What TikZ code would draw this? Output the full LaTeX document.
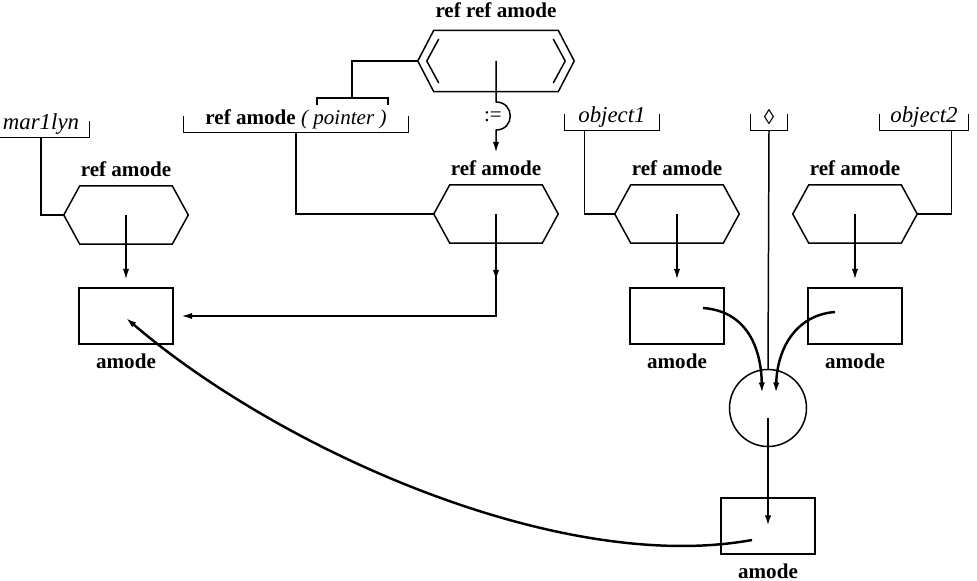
\documentclass[tikz,border=0pt]{standalone}
\usepackage{fontspec}
\setmainfont{Liberation Serif}
\usetikzlibrary{positioning,calc,arrows.meta}

\begin{document}
\begin{tikzpicture}[x=0.02cm, y=-0.02cm, line width=0.85pt, >={Latex[length=6pt,width=3.6pt]},
	every node/.style={inner sep=1pt, font=\fontsize{12}{14}\selectfont},
	lbl/.style={font=\fontsize{12}{14}\selectfont\bfseries},
	tag/.style={minimum height=0.52cm, font=\fontsize{13}{15}\selectfont\itshape},
	hexa/.style={minimum width=2.46cm, minimum height=1.14cm, inner sep=0pt},
	box/.style={draw, minimum width=1.88cm, minimum height=1.12cm, inner sep=0pt},
	flow/.style={->, line width=1.4pt}]
	\useasboundingbox (0,0) rectangle (977,581);
	\node[hexa, minimum width=3.1cm, minimum height=1.2cm] (rr) at (496,61) {};
	\node[lbl, above=6pt of rr] (rr-lab) {ref ref amode};
	\node[tag, minimum width=1.92cm] (mar) at (41,124) {mar1lyn};
	\node[minimum height=0.52cm, minimum width=4.48cm] (ptr) at (296,119) {\textbf{ref amode} \textit{( pointer )}};
	\node[tag, minimum width=1.88cm] (obj1) at (612,117) {object1};
	\node[tag, minimum width=0.72cm, font=\fontsize{12}{14}\selectfont] (dia) at (769,117) {◊};
	\node[tag, minimum width=1.76cm] (obj2) at (924,117) {object2};
	\node[hexa] (hmar) at (126,215) {};
	\node[hexa] (hptr) at (496,214) {};
	\node[hexa] (hobj1) at (677,214) {};
	\node[hexa] (hobj2) at (855,214) {};
	\foreach \h in {hmar,hptr,hobj1,hobj2}
		\node[lbl, above=4pt of \h] (\h-lab) {ref amode};
	\node[box] (bmar) at (126,316) {};
	\node[box] (bobj1) at (677,316) {};
	\node[box] (bobj2) at (855,316) {};
	\node[draw, circle, minimum size=1.54cm] (join) at (768,408) {};
	\node[box] (bres) at (768,526) {};
	\foreach \b in {bmar,bobj1,bobj2,bres}
		\node[lbl, below=4pt of \b] (\b-lab) {amode};
	\node (asg) at (493,117) {:=};

	\foreach \t in {mar,ptr,obj1,dia,obj2}
		\draw ($(\t.south west)+(0,-17)$) |- (\t.south east) -- ++(0,-17);
	\foreach \h in {rr,hmar,hptr,hobj1,hobj2}
		\draw (\h.west) -- ($(\h.north west)+(16,0)$) -- ($(\h.north east)+(-16,0)$) -- (\h.east)
			-- ($(\h.south east)+(-16,0)$) -- ($(\h.south west)+(16,0)$) -- cycle;
	\draw ($(rr.west)+(9,0)$) -- ++(12,-22) ($(rr.west)+(9,0)$) -- ++(12,22);
	\draw ($(rr.east)+(-9,0)$) -- ++(-12,-22) ($(rr.east)+(-9,0)$) -- ++(-12,22);

	\coordinate (brk) at (352,98);
	\draw (rr.west) -| (brk);
	\draw ($(brk)+(-35,7)$) -- ++(0,-7) -- ++(71,0) -- ++(0,7);
	\draw[->] (rr.center) -- ++(0,41) .. controls +(19,0) and +(19,0) .. ++(0,28) -- ([yshift=3pt]hptr-lab.north);

	\draw (mar.south) |- (hmar.west);
	\draw (ptr.south) |- (hptr.west);
	\draw (obj1.south west) ++(20,0) |- (hobj1.west);
	\draw (obj2.south east) ++(-17,0) |- (hobj2.east);
	\draw (dia.south) -- (join.north);
	\foreach \h/\b in {hmar/bmar, hobj1/bobj1, hobj2/bobj2}
		\draw[->] (\h.center) -- ([yshift=4.5pt]\b.north);
	\coordinate (corner) at (hptr.center |- bmar.east);
	\draw[->] (hptr.center) -- ($(hptr.center)!0.65!(corner)$);
	\draw[->] (hptr.center) -- (corner) -- ([xshift=4.5pt]bmar.east);

	\draw[flow] ($(bobj1.center)+(26,-8)$) .. controls +(42,3) and +(-1,-48) .. ($(join.center)+(-6,-15)$);
	\draw[flow] ($(bobj2.center)+(-20,-4)$) .. controls +(-40,3) and +(1,-43) .. ($(join.center)+(8,-15)$);
	\draw[flow] ($(join.center)+(0,10)$) -- (bres.center);
	\draw[flow] ($(bres.center)+(-16,14)$) .. controls +(-192,35) and +(154,132) .. ($(bmar.center)+(0,2)$);
\end{tikzpicture}
\end{document}
